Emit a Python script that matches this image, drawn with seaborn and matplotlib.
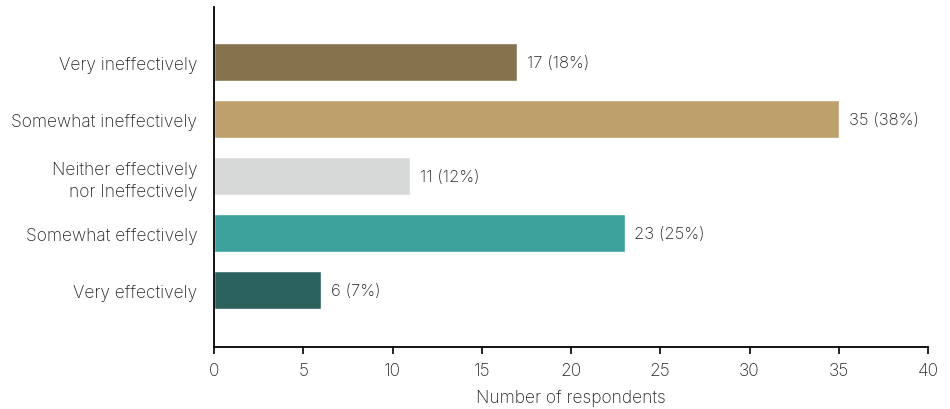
import matplotlib
matplotlib.use("Agg")
import matplotlib.pyplot as plt
import seaborn as sns
import pandas as pd

categories = ["Very ineffectively", "Somewhat ineffectively",
              "Neither effectively\nnor Ineffectively", "Somewhat effectively",
              "Very effectively"]
counts = [17, 35, 11, 23, 6]
percents = [18, 38, 12, 25, 7]
colors = ["#85734E", "#BDA06B", "#D7D9D8", "#3DA19C", "#2C625E"]
xticks = [0, 5, 10, 15, 20, 25, 30, 35, 40]

sns.set_theme(style="white")
plt.rcParams['font.family'] = ['Inter', 'DejaVu Sans']

df = pd.DataFrame({"category": categories, "count": counts})

fig = plt.figure(figsize=(9.5, 4.1), dpi=100)
ax = fig.add_axes([214/950, 1-348/410, (928-214)/950, 340/410])
sns.barplot(data=df, x="count", y="category", hue="category", palette=colors,
            legend=False, width=0.667, ax=ax, saturation=1)

txt = "#222222"
for i, (c, p) in enumerate(zip(counts, percents)):
    ax.text(c + 0.55, i, f"{c} ({p}%)", va="center", ha="left",
            fontsize=12, color=txt, fontweight="light")

ax.set_xlim(0, 40)
ax.set_ylim(4 + 1.0, -0.965)
ax.set_xticks(xticks)
ax.set_xticklabels([str(t) for t in xticks], fontsize=12.5, color=txt, fontweight="light")
ax.set_yticks(range(len(categories)))
ax.set_yticklabels(categories, fontsize=12.5, color=txt, fontweight="light",
                   linespacing=1.35)
ax.set_xlabel("Number of respondents", fontsize=12.5, color=txt, fontweight="light", labelpad=7)
ax.set_ylabel("")
for s in ["top", "right"]:
    ax.spines[s].set_visible(False)
for s in ["left", "bottom"]:
    ax.spines[s].set_color("black")
    ax.spines[s].set_linewidth(1.3)
ax.tick_params(axis="x", bottom=True, length=5, width=1.2, color="black", pad=6)
ax.tick_params(axis="y", left=False, length=0, pad=12)

fig.savefig("out.png", dpi=100)
